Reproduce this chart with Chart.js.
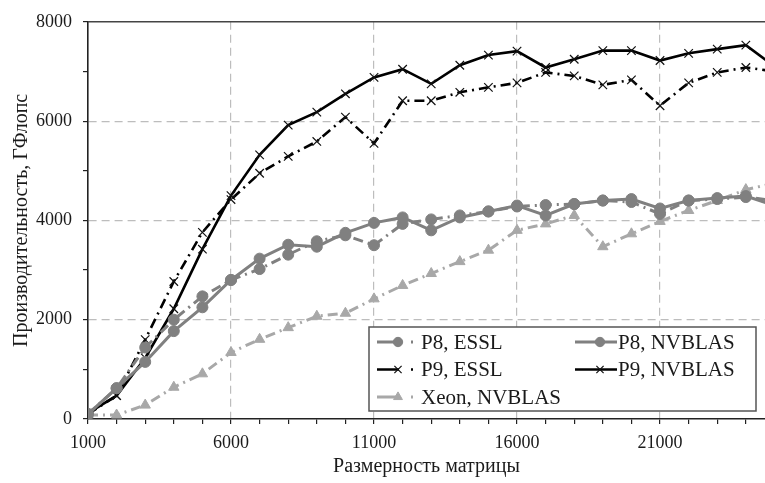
<!DOCTYPE html>
<html>
<head>
<meta charset="utf-8">
<script src="https://cdn.jsdelivr.net/npm/chart.js@4"></script>
<style>
  html, body { margin: 0; padding: 0; background: #fff; }
  #c { display: block; }
</style>
</head>
<body>
<canvas id="c" width="765" height="483"></canvas>
<script>
// ---- data ----
const matrixSizes = [1000, 2000, 3000, 4000, 5000, 6000, 7000, 8000, 9000, 10000, 11000, 12000, 13000,
                     14000, 15000, 16000, 17000, 18000, 19000, 20000, 21000, 22000, 23000, 24000, 25000];
const p8Essl   = [100, 620, 1440, 2000, 2470, 2800, 3020, 3310, 3580, 3700, 3500, 3930, 4020,
                  4100, 4180, 4280, 4310, 4330, 4400, 4370, 4130, 4400, 4430, 4470, 4400];
const p8Nvblas = [100, 620, 1150, 1770, 2250, 2800, 3230, 3510, 3470, 3750, 3950, 4060, 3800,
                  4060, 4180, 4300, 4100, 4330, 4400, 4430, 4240, 4400, 4450, 4490, 4300];
const p9Essl   = [100, 470, 1600, 2770, 3760, 4420, 4950, 5290, 5590, 6080, 5550, 6410, 6410,
                  6580, 6680, 6770, 6980, 6910, 6730, 6830, 6310, 6770, 6980, 7080, 7000];
const p9Nvblas = [120, 470, 1230, 2220, 3420, 4500, 5320, 5920, 6180, 6550, 6880, 7045, 6750,
                  7125, 7330, 7410, 7080, 7245, 7420, 7420, 7220, 7365, 7450, 7530, 7100];
const xeonNvblas = [80, 80, 280, 640, 910, 1340, 1605, 1840, 2070, 2130, 2420, 2690, 2930,
                    3170, 3400, 3800, 3930, 4100, 3470, 3730, 3980, 4200, 4400, 4620, 4750];

const xTickMarks = [1000, 2000, 3000, 4000, 5000, 6000, 7000, 8000, 9000, 10000, 11000, 12000,
                    13000, 14000, 15000, 16000, 17000, 18000, 19000, 20000, 21000, 22000, 23000, 24000];
const xLabelValues = [1000, 6000, 11000, 16000, 21000];
const yTickMarks = [0, 1000, 2000, 3000, 4000, 5000, 6000, 7000, 8000];
const yLabelValues = [0, 2000, 4000, 6000, 8000];
const seriesLabels = ['P8, ESSL', 'P8, NVBLAS', 'P9, ESSL', 'P9, NVBLAS', 'Xeon, NVBLAS'];
const xTitle = 'Размерность матрицы';
const yTitle = 'Производительность, ГФлопс';

const FONT = "'Liberation Serif', 'DejaVu Serif', serif";
const DASHDOT = [10, 5, 2, 5];
const GRAY = '#808080';
const LIGHT = '#a8a8a8';

function pts(arr) { return matrixSizes.map((x, i) => ({ x: x, y: arr[i] })); }

const datasets = [
  { label: seriesLabels[0], data: pts(p8Essl), borderColor: GRAY, backgroundColor: GRAY,
    borderWidth: 3, borderDash: DASHDOT, pointStyle: 'circle', pointRadius: 5.5,
    pointBackgroundColor: GRAY, pointBorderColor: GRAY, pointBorderWidth: 1 },
  { label: seriesLabels[1], data: pts(p8Nvblas), borderColor: GRAY, backgroundColor: GRAY,
    borderWidth: 3, borderDash: [], pointStyle: 'circle', pointRadius: 5.5,
    pointBackgroundColor: GRAY, pointBorderColor: GRAY, pointBorderWidth: 1 },
  { label: seriesLabels[2], data: pts(p9Essl), borderColor: '#000', backgroundColor: '#000',
    borderWidth: 2.6, borderDash: DASHDOT, pointStyle: 'crossRot', pointRadius: 6,
    pointBorderColor: '#111', pointBorderWidth: 1.2 },
  { label: seriesLabels[3], data: pts(p9Nvblas), borderColor: '#000', backgroundColor: '#000',
    borderWidth: 2.6, borderDash: [], pointStyle: 'crossRot', pointRadius: 6,
    pointBorderColor: '#111', pointBorderWidth: 1.2 },
  { label: seriesLabels[4], data: pts(xeonNvblas), borderColor: LIGHT, backgroundColor: LIGHT,
    borderWidth: 3, borderDash: DASHDOT, pointStyle: 'triangle', pointRadius: 6,
    pointBackgroundColor: LIGHT, pointBorderColor: LIGHT, pointBorderWidth: 1 }
];
datasets.forEach(d => { d.tension = 0; d.fill = false; d.pointHoverRadius = d.pointRadius; });

const frameTop = {
  id: 'frameTop',
  afterDatasetsDraw(chart) {
    const a = chart.chartArea, ctx = chart.ctx;
    ctx.save();
    ctx.strokeStyle = '#444';
    ctx.lineWidth = 1.5;
    ctx.beginPath();
    ctx.moveTo(a.left, a.top);
    ctx.lineTo(a.right, a.top);
    ctx.stroke();
    ctx.restore();
  }
};

const boxLegend = {
  id: 'boxLegend',
  afterDraw(chart) {
    const ctx = chart.ctx;
    const bx = 369, by = 327, bw = 387, bh = 84;
    ctx.save();
    ctx.fillStyle = '#fff';
    ctx.fillRect(bx, by, bw, bh);
    ctx.strokeStyle = '#555';
    ctx.lineWidth = 1.5;
    ctx.strokeRect(bx, by, bw, bh);
    const slots = [
      { x0: 377, x1: 418, mx: 398, tx: 421, y: 342 },
      { x0: 575, x1: 617, mx: 600, tx: 618, y: 342 },
      { x0: 377, x1: 418, mx: 398, tx: 421, y: 369.5 },
      { x0: 575, x1: 617, mx: 600, tx: 618, y: 369.5 },
      { x0: 377, x1: 418, mx: 398, tx: 421, y: 397 }
    ];
    chart.data.datasets.forEach((ds, i) => {
      const s = slots[i];
      ctx.save();
      ctx.strokeStyle = ds.borderColor;
      ctx.lineWidth = ds.borderWidth;
      const dashed = ds.borderDash && ds.borderDash.length;
      ctx.setLineDash(dashed ? [22, 12, 2, 40] : []);
      ctx.beginPath();
      ctx.moveTo(s.x0, s.y);
      ctx.lineTo(s.x1, s.y);
      ctx.stroke();
      ctx.setLineDash([]);
      ctx.restore();
      ctx.save();
      ctx.fillStyle = ds.pointBackgroundColor || ds.borderColor;
      ctx.strokeStyle = ds.pointBorderColor || ds.borderColor;
      ctx.lineWidth = ds.pointBorderWidth;
      Chart.helpers.drawPoint(ctx, { pointStyle: ds.pointStyle, radius: ds.pointRadius * 0.85,
        borderWidth: ds.pointBorderWidth, rotation: 0 }, s.mx, s.y);
      ctx.restore();
      ctx.fillStyle = '#1a1a1a';
      ctx.font = '21px ' + FONT;
      ctx.textBaseline = 'middle';
      ctx.textAlign = 'left';
      ctx.fillText(ds.label, s.tx, s.y + 1);
    });
    ctx.restore();
  }
};

new Chart(document.getElementById('c'), {
  type: 'line',
  data: { datasets: datasets },
  plugins: [frameTop, boxLegend],
  options: {
    responsive: false,
    animation: false,
    layout: { autoPadding: false, padding: { top: 17, right: 0, left: 0, bottom: 0 } },
    plugins: { legend: { display: false }, tooltip: { enabled: false } },
    scales: {
      x: {
        type: 'linear',
        min: 1000,
        max: 24670,
        afterFit(s) { s.height = 64; s.paddingRight = 0; },
        afterBuildTicks(s) { s.ticks = xTickMarks.map(v => ({ value: v })); },
        ticks: {
          autoSkip: false,
          maxRotation: 0,
          padding: 8,
          color: '#1a1a1a',
          font: { family: FONT, size: 18 },
          callback: v => xLabelValues.includes(v) ? String(v) : ''
        },
        grid: {
          color: c => (c.tick && xLabelValues.includes(c.tick.value) && c.tick.value !== 1000) ? '#bdbdbd' : 'rgba(0,0,0,0)',
          lineWidth: 1.2,
          tickColor: '#222',
          tickLength: 5,
          tickWidth: 1.2
        },
        border: { color: '#222', width: 1.6, dash: [8, 5] },
        title: { display: true, text: xTitle, color: '#1a1a1a',
                 font: { family: FONT, size: 20 }, padding: { top: 0, bottom: 4 } }
      },
      y: {
        min: 0,
        max: 8000,
        afterFit(s) { s.width = 88; },
        afterBuildTicks(s) { s.ticks = yTickMarks.map(v => ({ value: v })); },
        ticks: {
          autoSkip: false,
          padding: 11,
          color: '#1a1a1a',
          font: { family: FONT, size: 18 },
          callback: v => yLabelValues.includes(v) ? String(v) : ''
        },
        grid: {
          color: c => (c.tick && yLabelValues.includes(c.tick.value) && c.tick.value !== 0 && c.tick.value !== 8000) ? '#bdbdbd' : 'rgba(0,0,0,0)',
          lineWidth: 1.2,
          tickColor: '#222',
          tickLength: 5,
          tickWidth: 1.2
        },
        border: { color: '#222', width: 1.6, dash: [8, 5] },
        title: { display: true, text: yTitle, color: '#1a1a1a',
                 font: { family: FONT, size: 20 }, padding: { top: 10, bottom: 0 } }
      }
    }
  }
});
</script>
</body>
</html>
